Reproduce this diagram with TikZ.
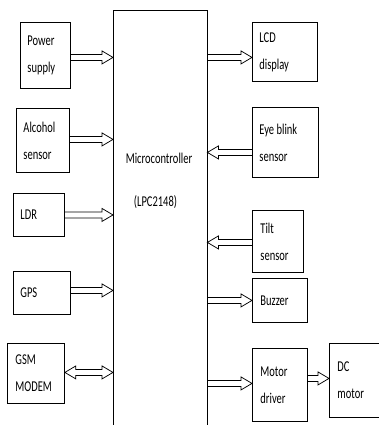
\documentclass[tikz,border=0pt]{standalone}
\usepackage{fontspec}
\setmainfont{Carlito}[FakeStretch=0.7]
\usetikzlibrary{calc}
\newcommand\diafont{\fontsize{15}{27}\selectfont}
\tikzset{
  box/.style={draw, line width=0.85pt, inner xsep=7pt, inner ysep=0pt, align=left,
    font=\diafont, anchor=north west},
  lbl/.style={font=\diafont, inner sep=0pt},
  harrow/.style={line width=0.75pt, line join=miter},
  rarr/.style={harrow, to path={let \p1=(\tikztostart), \p2=(\tikztotarget) in
    (\x1,\y1+3pt) -- (\x2-11pt,\y1+3pt) -- (\x2-11pt,\y1+6.5pt) -- (\x2,\y1)
    -- (\x2-11pt,\y1-6.5pt) -- (\x2-11pt,\y1-3pt) -- (\x1,\y1-3pt)}},
  larr/.style={harrow, to path={let \p1=(\tikztostart), \p2=(\tikztotarget) in
    (\x1,\y1+3pt) -- (\x2+11pt,\y1+3pt) -- (\x2+11pt,\y1+6.5pt) -- (\x2,\y1)
    -- (\x2+11pt,\y1-6.5pt) -- (\x2+11pt,\y1-3pt) -- (\x1,\y1-3pt)}},
  barr/.style={harrow, to path={let \p1=(\tikztostart), \p2=(\tikztotarget) in
    (\x1,\y1) -- (\x1+11pt,\y1+6.5pt) -- (\x1+11pt,\y1+3pt) -- (\x2-11pt,\y1+3pt)
    -- (\x2-11pt,\y1+6.5pt) -- (\x2,\y1) -- (\x2-11pt,\y1-6.5pt) -- (\x2-11pt,\y1-3pt)
    -- (\x1+11pt,\y1-3pt) -- (\x1+11pt,\y1-6.5pt) -- cycle}},
}
\begin{document}
\begin{tikzpicture}[x=1pt,y=-1pt]
\useasboundingbox (0,0) rectangle (379,425);
% microcontroller
\node[minimum width=94pt, minimum height=420pt, anchor=north west, inner sep=0pt] (mc) at (113,10) {};
\draw[line width=0.85pt] (mc.south west) -- (mc.north west) -- (mc.north east) -- (mc.south east);
\node[lbl] (mct1) at (159,158) {Microcontroller};
\node[lbl] (mct2) at (155.5,202) {(LPC2148)};
% left blocks
\node[box, text width=36pt, minimum height=66pt] (ps) at (20,22) {Power\\supply};
\node[box, text width=39pt, minimum height=64pt] (alc) at (16,108) {Alcohol\\sensor};
\node[box, text width=37pt, minimum height=43pt] (ldr) at (13,193) {LDR};
\node[box, text width=43pt, minimum height=43pt] (gps) at (13,271) {GPS};
\node[box, inner xsep=8pt, text width=41pt, minimum height=60pt] (gsm) at (7,343) {GSM\\MODEM};
% right blocks
\node[box, text width=51pt, minimum height=59pt] (lcd) at (252,22) {LCD\\display};
\node[box, text width=52pt, minimum height=70pt] (eye) at (252,107) {Eye\hspace{2.5pt}blink\\sensor};
\node[box, inner xsep=8pt, text width=35pt, minimum height=62pt] (tilt) at (252,210) {Tilt\\sensor};
\node[box, inner xsep=8pt, text width=39pt, minimum height=44pt] (buz) at (252,278) {Buzzer};
\node[box, inner xsep=8pt, text width=39pt, minimum height=73pt] (md) at (252,348) {Motor\\driver};
\node[box, inner xsep=8pt, text width=33.5pt, minimum height=74pt] (dc) at (329,343) {DC\\motor};
% connectors
\draw[rarr] ([yshift=-2pt]ps.east) to ([yshift=-2pt]ps.east -| mc.west);
\draw[rarr] ([yshift=1pt]alc.east) to ([yshift=1pt]alc.east -| mc.west);
\draw[rarr] (ldr.east) to (ldr.east -| mc.west);
\draw[rarr] ([yshift=2.5pt]gps.east) to ([yshift=2.5pt]gps.east -| mc.west);
\draw[barr] ([yshift=1pt]gsm.east) to ([yshift=1pt]gsm.east -| mc.west);
\draw[rarr] ([yshift=-5.5pt]lcd.west -| mc.east) to ([yshift=-5.5pt]lcd.west);
\draw[larr] ([yshift=-10pt]eye.west) to ([yshift=-10pt]eye.west -| mc.east);
\draw[larr] ([yshift=-1pt]tilt.west) to ([yshift=-1pt]tilt.west -| mc.east);
\draw[rarr] (buz.west -| mc.east) to (buz.west);
\draw[rarr] ([yshift=1.5pt]md.west -| mc.east) to ([yshift=1.5pt]md.west);
\draw[rarr] ([yshift=6.5pt]md.east) to ([yshift=6.5pt]md.east -| dc.west);
\end{tikzpicture}
\end{document}
